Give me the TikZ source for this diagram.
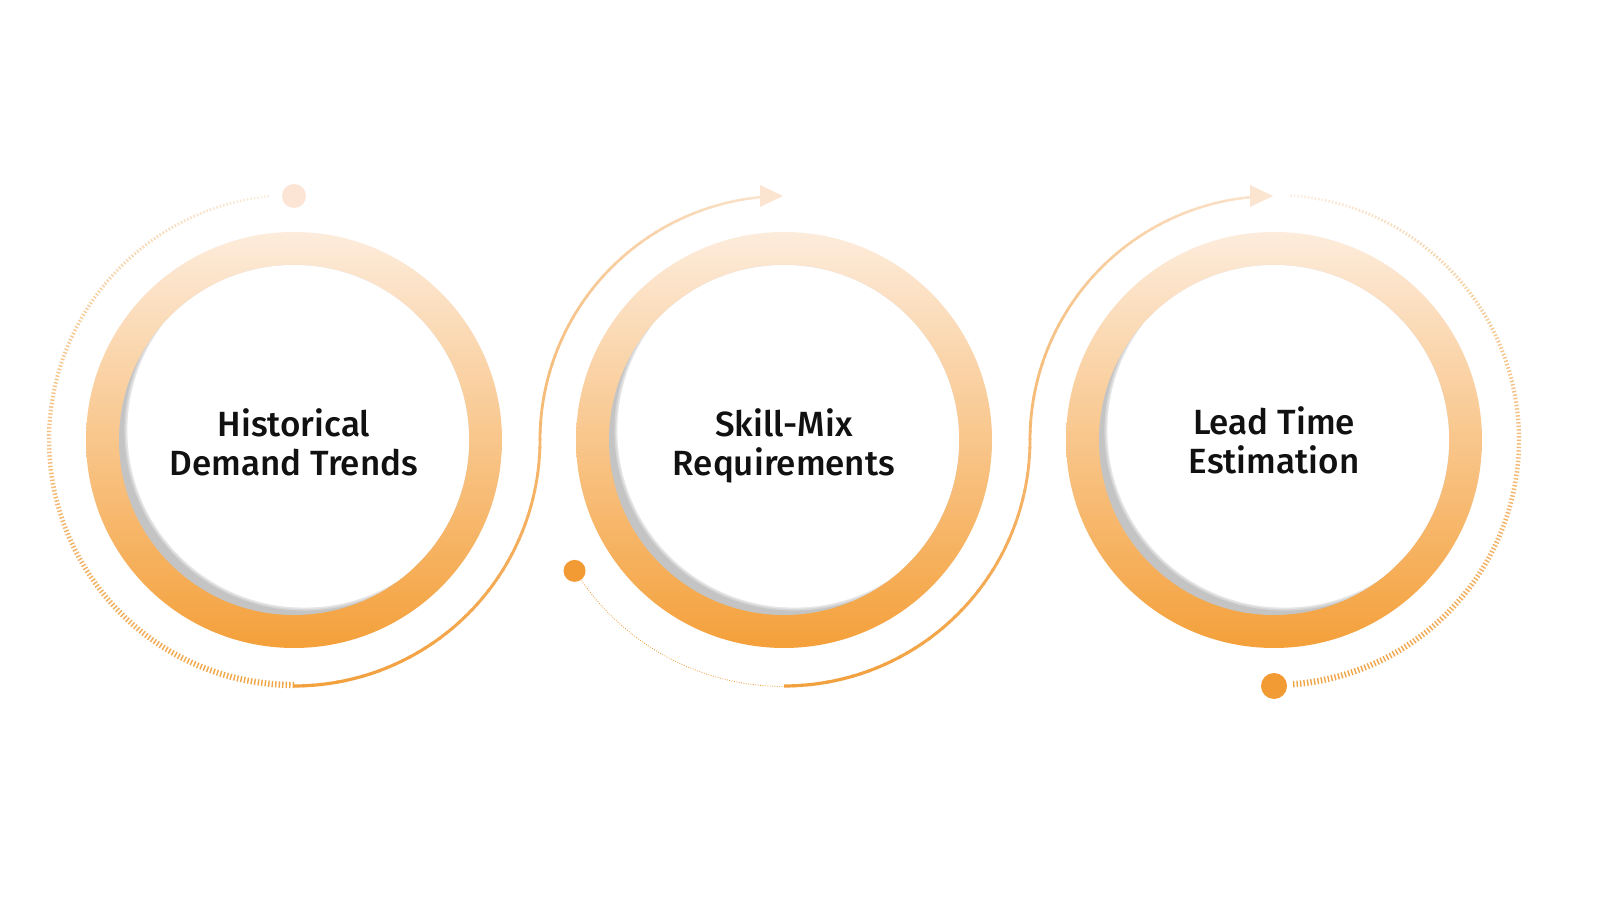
\documentclass[tikz,border=0pt]{standalone}
\usepackage{fontspec}
\setmainfont{Fira Sans Medium}
\definecolor{ringtop}{HTML}{FDECDC}
\definecolor{ringmid}{HTML}{F9C58C}
\definecolor{ringbot}{HTML}{F4A03A}
\definecolor{shadowgrey}{HTML}{C4C4C4}
\definecolor{solbot}{HTML}{F2A03E}
\definecolor{soltop}{HTML}{FBE5D1}
\definecolor{tickbot}{HTML}{F0A445}
\definecolor{ticktop}{HTML}{FCEBDC}
\definecolor{dotlight}{HTML}{FCE5D4}
\definecolor{dotorange}{HTML}{F29A33}
\definecolor{txt}{HTML}{111111}
\tikzset{
  lbl/.style={text=txt, inner sep=0pt, font=\fontsize{35}{39}\selectfont},
  solidseg/.style={line width=3pt, line cap=butt},
  tickmark/.style={line width=1.4pt},
  dotnode/.style={circle, inner sep=0pt, draw=none},
  arrowhd/.style={fill=soltop, draw=none}
}
\newcommand{\ringunit}[1]{%
  \shade[top color=ringtop, middle color=ringmid, bottom color=ringbot] (#1) circle (208);
  \fill[shadowgrey] (#1) circle (175);
  \begin{scope}
    \clip (#1) circle (175);
    \fill[white, opacity=0.3] ([shift={(10.4,9.4)}]#1) circle (180);
    \fill[white, opacity=0.4] ([shift={(10.4,9.4)}]#1) circle (178.5);
    \fill[white] ([shift={(10.4,9.4)}]#1) circle (177);
  \end{scope}
}
\begin{document}
\begin{tikzpicture}[x=1pt,y=1pt]
\useasboundingbox (0,0) rectangle (1600,900);
\fill[white] (0,0) rectangle (1600,900);
\coordinate (c1) at (294,460);
\coordinate (c2) at (784,460);
\coordinate (c3) at (1274,460);

% rings
\ringunit{c1}
\ringunit{c2}
\ringunit{c3}

% ticks circle 1 (top -> left -> bottom)
\foreach \i in {0,...,212}{
  \pgfmathsetmacro\f{\i/212}
  \pgfmathsetmacro\a{96+\i*0.82}
  \pgfmathtruncatemacro\p{100*(1-(1-\f)^1.6)}
  \pgfmathsetmacro\h{1.2+2*\f}
  \draw[tickmark, color=tickbot!\p!ticktop] (c1) ++(\a:{245-\h}) -- ++(\a:{2*\h});
}
% ticks circle 3 (top -> right -> bottom)
\foreach \i in {0,...,209}{
  \pgfmathsetmacro\f{\i/209}
  \pgfmathsetmacro\a{86-\i*0.82}
  \pgfmathtruncatemacro\p{100*(1-(1-\f)^1.6)}
  \pgfmathsetmacro\h{1.2+2*\f}
  \draw[tickmark, color=tickbot!\p!ticktop] (c3) ++(\a:{245-\h}) -- ++(\a:{2*\h});
}

% dotted line circle 2
\draw[dotorange, line width=0.8pt, dash pattern=on 0.8pt off 1.6pt]
  ([shift={(212:246.5)}]c2) arc[start angle=212, end angle=270, radius=246.5];

% solid S-curves
\foreach \ca/\cb in {c1/c2, c2/c3}{
  \foreach \i in {0,...,44}{
    \pgfmathsetmacro\f{\i/89}
    \pgfmathsetmacro\a{-90+2*\i}
    \pgfmathtruncatemacro\p{100-100*\f^1.6}
    \pgfmathsetmacro\w{3.2-0.8*\f}
    \draw[solidseg, line width=\w pt, color=solbot!\p!soltop]
      ([shift={(\a:246)}]\ca) arc[start angle=\a, end angle=\a+2.4, radius=246];
  }
  \foreach \i in {0,...,42}{
    \pgfmathsetmacro\f{(45+\i)/89}
    \pgfmathsetmacro\a{180-2*\i}
    \pgfmathtruncatemacro\p{100-100*\f^1.6}
    \pgfmathsetmacro\w{3.2-0.8*\f}
    \draw[solidseg, line width=\w pt, color=solbot!\p!soltop]
      ([shift={(\a:244)}]\cb) arc[start angle=\a, end angle=\a-2.4, radius=244];
  }
  \fill[arrowhd] ([shift={(-24,255)}]\cb) -- ([shift={(-1,244)}]\cb) -- ([shift={(-24,233)}]\cb) -- cycle;
}

% dots
\node[dotnode, fill=dotlight, minimum size=24pt] (d1) at ([shift={(90:244)}]c1) {};
\node[dotnode, fill=dotorange, minimum size=22pt] (d2) at ([shift={(212:247)}]c2) {};
\node[dotnode, fill=dotorange, minimum size=26pt] (d3) at ([shift={(270:246)}]c3) {};

% labels
\node[lbl, anchor=base] (t1a) at (294,463) {Historical};
\node[lbl, anchor=base] (t1b) at (294,424) {Demand Trends};
\node[lbl, anchor=base] (t2a) at (784,463) {Skill-Mix};
\node[lbl, anchor=base] (t2b) at (784,424) {Requirements};
\node[lbl, anchor=base] (t3a) at (1274,465) {Lead Time};
\node[lbl, anchor=base] (t3b) at (1274,426) {Estimation};
\end{tikzpicture}
\end{document}
